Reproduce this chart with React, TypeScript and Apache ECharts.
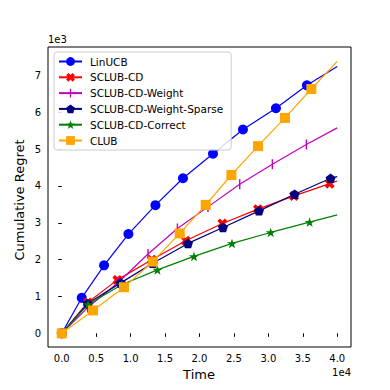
import React, { useEffect, useRef } from "react";
import * as echarts from "echarts";

const seriesNames = [
  "LinUCB",
  "SCLUB-CD",
  "SCLUB-CD-Weight",
  "SCLUB-CD-Weight-Sparse",
  "SCLUB-CD-Correct",
  "CLUB",
];

const linucbX = [0, 2900, 6140, 9680, 13600, 17600, 21960, 26310, 31100, 35600, 40000];
const linucbY = [0, 965, 1846, 2695, 3478, 4208, 4873, 5532, 6108, 6730, 7243];

const sclubX = [0, 3770, 8080, 13060, 18000, 23320, 28490, 33720, 38900, 40000];
const sclubY = [0, 838, 1451, 2000, 2514, 2981, 3370, 3730, 4062, 4135];

const weightX = [0, 3770, 8200, 12525, 16790, 21230, 25840, 30580, 35520, 40000];
const weightY = [0, 700, 1380, 2154, 2846, 3432, 4046, 4586, 5127, 5576];

const sparseX = [0, 3770, 8560, 13210, 18330, 23410, 28640, 33820, 39040, 40000];
const sparseY = [0, 811, 1370, 1900, 2441, 2873, 3324, 3776, 4208, 4251];

const correctX = [0, 3820, 8700, 13890, 19200, 24720, 30330, 35990, 40000];
const correctY = [0, 784, 1320, 1722, 2089, 2441, 2738, 3019, 3216];

const clubX = [0, 4540, 9040, 13210, 17130, 20900, 24630, 28490, 32410, 36240, 40000];
const clubY = [0, 622, 1251, 1946, 2711, 3486, 4297, 5081, 5846, 6630, 7378];

const xTicks = [0, 5000, 10000, 15000, 20000, 25000, 30000, 35000, 40000];
const yTicks = [0, 1000, 2000, 3000, 4000, 5000, 6000, 7000];

const FONT = "DejaVu Sans";

const X_SYMBOL =
  "path://M2.6,0 L5,2.4 L7.4,0 L10,2.6 L7.6,5 L10,7.4 L7.4,10 L5,7.6 L2.6,10 L0,7.4 L2.4,5 L0,2.6 Z";
const PENTAGON = "path://M0,-1 L0.951,-0.309 L0.588,0.809 L-0.588,0.809 L-0.951,-0.309 Z";
const STAR = (() => {
  const pts: string[] = [];
  for (let i = 0; i < 10; i++) {
    const r = i % 2 === 0 ? 1 : 0.4;
    const a = (-90 + i * 36) * (Math.PI / 180);
    pts.push(`${(r * Math.cos(a)).toFixed(3)},${(r * Math.sin(a)).toFixed(3)}`);
  }
  return "path://M" + pts.join(" L") + " Z";
})();
const VLINE =
  "path://M0,0 L0.01,0 L0,0.01 Z M10,10 L9.99,10 L10,9.99 Z M4.3,0 L5.7,0 L5.7,10 L4.3,10 Z";

function build(xs: number[], ys: number[]) {
  return xs.map((x, i) => {
    if (i === xs.length - 1) return { value: [x, ys[i]], symbol: "none" };
    return { value: [x, ys[i]] };
  });
}

export default function App() {
  const ref = useRef<HTMLDivElement>(null);
  useEffect(() => {
    if (!ref.current) return;
    const chart = echarts.init(ref.current, undefined, { renderer: "svg" });
    const mk = (
      name: string,
      xs: number[],
      ys: number[],
      color: string,
      symbol: string,
      size: any
    ) => ({
      name,
      type: "line",
      data: build(xs, ys),
      symbol,
      symbolSize: size,
      showSymbol: true,
      showAllSymbol: true,
      symbolKeepAspect: true,
      lineStyle: { color, width: 1.2 },
      itemStyle: { color, borderWidth: 0 },
      emphasis: { disabled: true },
    });
    chart.setOption({
      animation: false,
      textStyle: { fontFamily: FONT },
      grid: {
        left: 48,
        top: 47,
        right: 39,
        bottom: 43,
        show: true,
        borderColor: "#000",
        borderWidth: 1,
        backgroundColor: "transparent",
      },
      legend: {
        orient: "vertical",
        left: 54,
        top: 52,
        data: seriesNames,
        backgroundColor: "rgba(255,255,255,0.85)",
        borderColor: "#cccccc",
        borderWidth: 1,
        borderRadius: 3,
        padding: [4, 8, 4, 4],
        itemGap: 4.8,
        itemWidth: 23,
        itemHeight: 11,
        textStyle: { fontSize: 10.5, color: "#000", fontFamily: FONT, padding: [0, 0, 0, 3], lineHeight: 10 },
      },
      xAxis: {
        type: "value",
        min: -2000,
        max: 42000,
        splitLine: { show: false },
        axisLine: { show: false },
        axisTick: {
          show: true,
          length: 3.5,
          lineStyle: { color: "#000" },
          customValues: xTicks,
        },
        axisLabel: {
          customValues: xTicks,
          formatter: (v: number) => (v / 10000).toFixed(1),
          color: "#000",
          fontSize: 10,
          fontFamily: FONT,
          margin: 6,
        },
      },
      yAxis: {
        type: "value",
        min: -370,
        max: 7770,
        splitLine: { show: false },
        axisLine: { show: false },
        axisTick: {
          show: true,
          length: 3.5,
          lineStyle: { color: "#000" },
          customValues: yTicks,
        },
        axisLabel: {
          customValues: yTicks,
          formatter: (v: number) => String(Math.round(v / 1000)),
          color: "#000",
          fontSize: 10,
          fontFamily: FONT,
          margin: 7,
        },
      },
      graphic: [
        { type: "text", left: 48, top: 34, style: { text: "1e3", fontSize: 10, fontFamily: FONT, fill: "#000" } },
        { type: "text", right: 39, top: 367, style: { text: "1e4", fontSize: 10, fontFamily: FONT, fill: "#000" } },
        {
          type: "text",
          x: 199,
          y: 374,
          style: { text: "Time", fontSize: 13, fontFamily: FONT, fill: "#000", align: "center", verticalAlign: "middle" },
        },
        {
          type: "text",
          x: 19,
          y: 200,
          rotation: Math.PI / 2,
          style: {
            text: "Cumulative Regret",
            fontSize: 13,
            fontFamily: FONT,
            fill: "#000",
            align: "center",
            verticalAlign: "middle",
          },
        },
      ],
      series: [
        mk(seriesNames[0], linucbX, linucbY, "#0000ff", "circle", 10),
        mk(seriesNames[1], sclubX, sclubY, "#ff0000", X_SYMBOL, 10),
        mk(seriesNames[2], weightX, weightY, "#bf00bf", VLINE, 10),
        mk(seriesNames[3], sparseX, sparseY, "#000080", PENTAGON, 10),
        mk(seriesNames[4], correctX, correctY, "#008000", STAR, 10),
        mk(seriesNames[5], clubX, clubY, "#ffa500", "rect", 10),
      ],
    });
    return () => chart.dispose();
  }, []);
  return <div ref={ref} style={{ width: 390, height: 390, margin: -8 }} />;
}
